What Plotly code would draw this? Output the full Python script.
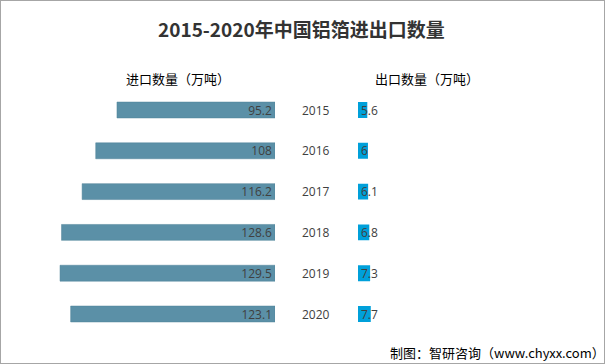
import plotly.graph_objects as go

years = ["2015", "2016", "2017", "2018", "2019", "2020"]
imports = [95.2, 108, 116.2, 128.6, 129.5, 123.1]
exports = [5.6, 6, 6.1, 6.8, 7.3, 7.7]
import_labels = ["95.2", "108", "116.2", "128.6", "129.5", "123.1"]
export_labels = ["5.6", "6", "6.1", "6.8", "7.3", "7.7"]

W, H = 605, 364
PXU = 1.66  # pixels per unit
left_end = 275
right_start = 358
y_top, y_bot = 89.6, 334.4

fig = go.Figure()
fig.add_trace(go.Bar(
    y=years, x=imports, orientation="h", xaxis="x", yaxis="y",
    marker=dict(color="#5b90a7", line=dict(color="#4f8299", width=0.5)),
    text=import_labels, textposition="inside", insidetextanchor="start",
    constraintext="none",
    textfont=dict(family="Open Sans", size=12, color="#404040"),
    hoverinfo="skip",
))
fig.add_trace(go.Bar(
    y=years, x=exports, orientation="h", xaxis="x2", yaxis="y2",
    marker=dict(color="#00a0da", line=dict(width=0)),
    hoverinfo="skip",
))

ann = []
for i, (yr, lab) in enumerate(zip(years, export_labels)):
    ann.append(dict(x=0, y=i, xref="x2", yref="y2", text=lab, showarrow=False,
                    xanchor="left", xshift=1,
                    font=dict(family="Open Sans", size=12, color="#404040")))
    ann.append(dict(x=316 / W, y=i, xref="paper", yref="y", text=yr, showarrow=False,
                    xanchor="center",
                    font=dict(family="Open Sans", size=12, color="#404040")))

ann += [
    dict(x=301 / W, y=1 - 29 / H, xref="paper", yref="paper",
         text="<b>2015-2020年中国铝箔进出口数量</b>", showarrow=False,
         xanchor="center", yanchor="middle",
         font=dict(family="Noto Sans CJK SC", size=19, color="#333333")),
    dict(x=124 / W, y=1 - 78 / H, xref="paper", yref="paper",
         text="进口数量（万吨）", showarrow=False, xanchor="left", yanchor="middle",
         font=dict(family="Noto Sans CJK SC", size=13, color="#000000")),
    dict(x=373 / W, y=1 - 78 / H, xref="paper", yref="paper",
         text="出口数量（万吨）", showarrow=False, xanchor="left", yanchor="middle",
         font=dict(family="Noto Sans CJK SC", size=13, color="#000000")),
    dict(x=607 / W, y=1 - 352 / H, xref="paper", yref="paper",
         text="制图：智研咨询（www.chyxx.com）", showarrow=False,
         xanchor="right", yanchor="middle",
         font=dict(family="Noto Sans CJK SC", size=13, color="#000000")),
]

ydom = [1 - y_bot / H, 1 - y_top / H]
fig.update_layout(
    width=W, height=H, margin=dict(l=0, r=0, t=0, b=0),
    paper_bgcolor="white", plot_bgcolor="white",
    showlegend=False, bargap=0.61,
    xaxis=dict(domain=[0, left_end / W], range=[left_end / PXU, 0],
               visible=False, fixedrange=True),
    xaxis2=dict(domain=[right_start / W, 1], range=[0, (W - right_start) / PXU],
                visible=False, fixedrange=True),
    yaxis=dict(domain=ydom, range=[5.5, -0.5], visible=False, type="category"),
    yaxis2=dict(domain=ydom, range=[5.5, -0.5], visible=False, type="category",
                anchor="x2"),
    annotations=ann,
    shapes=[dict(type="rect", xref="paper", yref="paper", x0=0, x1=1, y0=0, y1=1,
                 line=dict(color="#a6a6a6", width=2), fillcolor="rgba(0,0,0,0)")],
)
fig.write_html("out.html", config={"displayModeBar": False},
               post_script="document.body.style.margin='0';document.body.style.padding='0';")
